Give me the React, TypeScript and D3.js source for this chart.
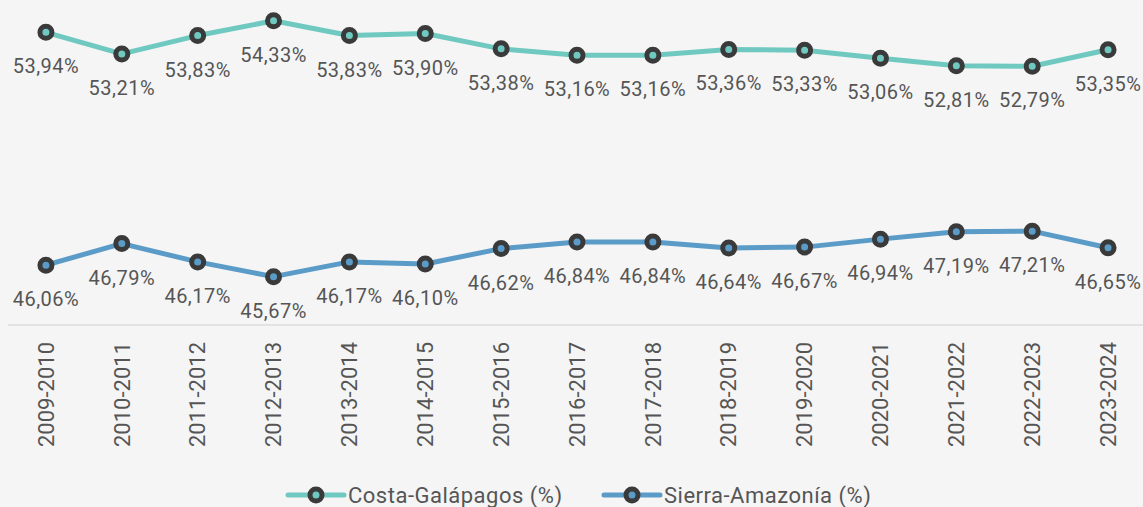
import React from 'react';
import * as d3 from 'd3';

const years = [
  '2009-2010', '2010-2011', '2011-2012', '2012-2013', '2013-2014',
  '2014-2015', '2015-2016', '2016-2017', '2017-2018', '2018-2019',
  '2019-2020', '2020-2021', '2021-2022', '2022-2023', '2023-2024',
];

const costa = [53.94, 53.21, 53.83, 54.33, 53.83, 53.90, 53.38, 53.16, 53.16, 53.36, 53.33, 53.06, 52.81, 52.79, 53.35];
const sierra = [46.06, 46.79, 46.17, 45.67, 46.17, 46.10, 46.62, 46.84, 46.84, 46.64, 46.67, 46.94, 47.19, 47.21, 46.65];

const seriesNames = ['Costa-Galápagos (%)', 'Sierra-Amazonía (%)'];
const seriesColors = ['#70c9c1', '#5b9bc8'];

const w = 1143;
const h = 507;
const font = 'Roboto, sans-serif';
const textColor = '#555555';
const markerStroke = '#3a3a3a';

const fmt = (v: number) => v.toFixed(2).replace('.', ',') + '%';

const App = () => {
  const x = d3.scalePoint<string>().domain(years).range([8, 1146]).padding(0.5);
  const y = d3.scaleLinear().domain([44, 55]).range([326, 1]);

  const line = d3.line<number>()
    .x((_, i) => x(years[i]) as number)
    .y(d => y(d));

  const series = [costa, sierra];

  return (
    <div style={{ position: 'absolute', left: 0, top: 0, width: w, height: h, background: '#f5f5f5' }}>
      <svg width={w} height={h} style={{ display: 'block', fontFamily: font }}>
        {/* axis line */}
        <line x1={8} x2={w} y1={325} y2={325} stroke="#dcdcdc" strokeWidth={1.5} />

        {/* x tick labels */}
        {years.map(yr => (
          <text
            key={yr}
            transform={`translate(${x(yr)},342) rotate(-90)`}
            textAnchor="end"
            dy="0.35em"
            fontSize={22}
            fill={textColor}
          >
            {yr}
          </text>
        ))}

        {series.map((vals, si) => (
          <g key={si}>
            <path d={line(vals) || ''} fill="none" stroke={seriesColors[si]} strokeWidth={5} strokeLinejoin="round" />
            {vals.map((v, i) => (
              <circle key={i} cx={x(years[i])} cy={y(v)} r={6} fill={seriesColors[si]} stroke={markerStroke} strokeWidth={5} />
            ))}
            {vals.map((v, i) => (
              <text
                key={'l' + i}
                x={x(years[i])}
                y={y(v) + 41}
                textAnchor="middle"
                fontSize={20}
                letterSpacing={0.5}
                fill={textColor}
              >
                {fmt(v)}
              </text>
            ))}
          </g>
        ))}

        {/* legend */}
        {[288, 604].map((lx, si) => (
          <g key={'lg' + si}>
            <line x1={lx} x2={lx + 56} y1={495} y2={495} stroke={seriesColors[si]} strokeWidth={5} strokeLinecap="round" />
            <circle cx={lx + 28} cy={495} r={6} fill={seriesColors[si]} stroke={markerStroke} strokeWidth={5} />
            <text x={lx + 60} y={503} fontSize={22} letterSpacing={0.5} fill={textColor}>{seriesNames[si]}</text>
          </g>
        ))}
      </svg>
    </div>
  );
};

export default App;
